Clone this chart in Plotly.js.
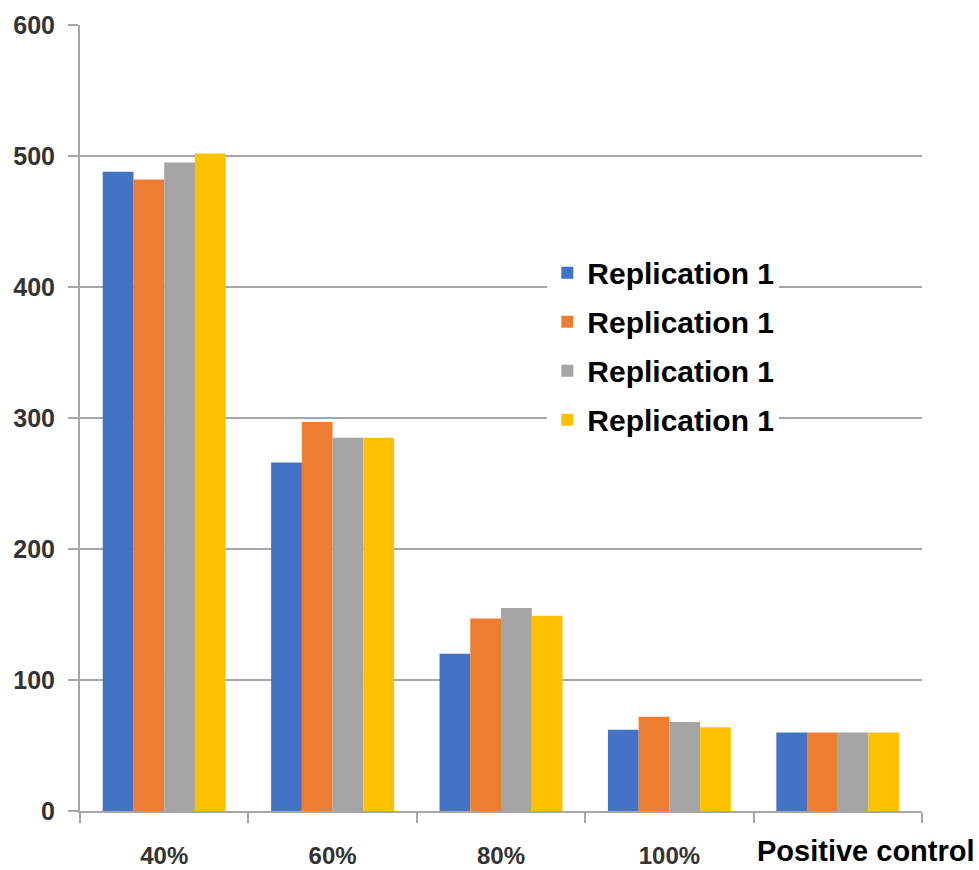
<!DOCTYPE html>
<html>
<head>
<meta charset="utf-8">
<script src="https://cdn.plot.ly/plotly-3.0.1.min.js"></script>
<style>html,body{margin:0;padding:0;background:#fff;}#chart{width:979px;height:870px;}</style>
</head>
<body>
<div id="chart"></div>
<script>
const categories = ["40%", "60%", "80%", "100%", "Positive control"];
const seriesNames = ["Replication 1", "Replication 1", "Replication 1", "Replication 1"];
const rep1 = [488, 266, 120, 62, 60];
const rep2 = [482, 297, 147, 72, 60];
const rep3 = [495, 285, 155, 68, 60];
const rep4 = [502, 285, 149, 64, 60];
const yTicks = [0, 100, 200, 300, 400, 500, 600];
const colors = ["#4472C4", "#ED7D31", "#A5A5A5", "#FFC000"];

const FONT = "'Liberation Sans', Arial, sans-serif";
const values = [rep1, rep2, rep3, rep4];
const traces = values.map((v, i) => ({
  type: "bar",
  name: seriesNames[i],
  x: categories,
  y: v,
  marker: {color: colors[i], line: {width: 0}},
  legendgroup: "g" + i,
  hoverinfo: "x+y"
}));

const lastCat = categories[categories.length - 1];
const layout = {
  width: 979, height: 870,
  margin: {l: 80, r: 57, t: 25, b: 59},
  paper_bgcolor: "#fff", plot_bgcolor: "#fff",
  barmode: "group", bargap: 0.27, bargroupgap: 0,
  showlegend: true,
  legend: {
    x: 0.555, y: 0.718, xanchor: "left", yanchor: "top",
    bgcolor: "#fff", borderwidth: 0, tracegroupgap: 7,
    font: {family: FONT, size: 30, color: "#000", weight: "bold"},
    itemwidth: 30
  },
  xaxis: {
    type: "category",
    range: [-0.5, categories.length - 0.5], autorange: false,
    tickmode: "array", tickvals: categories,
    ticktext: categories.map((c, i) => i === categories.length - 1 ? "" : c),
    tickson: "boundaries", ticks: "outside", ticklen: 10, tickwidth: 2, tickcolor: "#a6a6a6",
    showline: true, linecolor: "#a6a6a6", linewidth: 2,
    showgrid: false, zeroline: false,
    tickfont: {family: FONT, size: 24, color: "#333", weight: "bold"},
    ticklabelstandoff: 22
  },
  yaxis: {
    range: [0, 600], autorange: false, tickmode: "array", tickvals: yTicks,
    ticks: "outside", ticklen: 10, tickwidth: 2, tickcolor: "#a6a6a6",
    showline: true, linecolor: "#a6a6a6", linewidth: 2,
    showgrid: true, gridcolor: "#a6a6a6", gridwidth: 2, zeroline: false,
    tickfont: {family: FONT, size: 25, color: "#333", weight: "bold"},
    ticklabelstandoff: 8
  },
  annotations: [{
    x: lastCat, xref: "x", y: 0, yref: "paper",
    text: lastCat, showarrow: false, xanchor: "center", yanchor: "top",
    xshift: 28, yshift: -22,
    font: {family: FONT, size: 29, color: "#000", weight: "bold"}
  }]
};

Plotly.newPlot("chart", traces, layout, {displayModeBar: false, staticPlot: true});
</script>
</body>
</html>
